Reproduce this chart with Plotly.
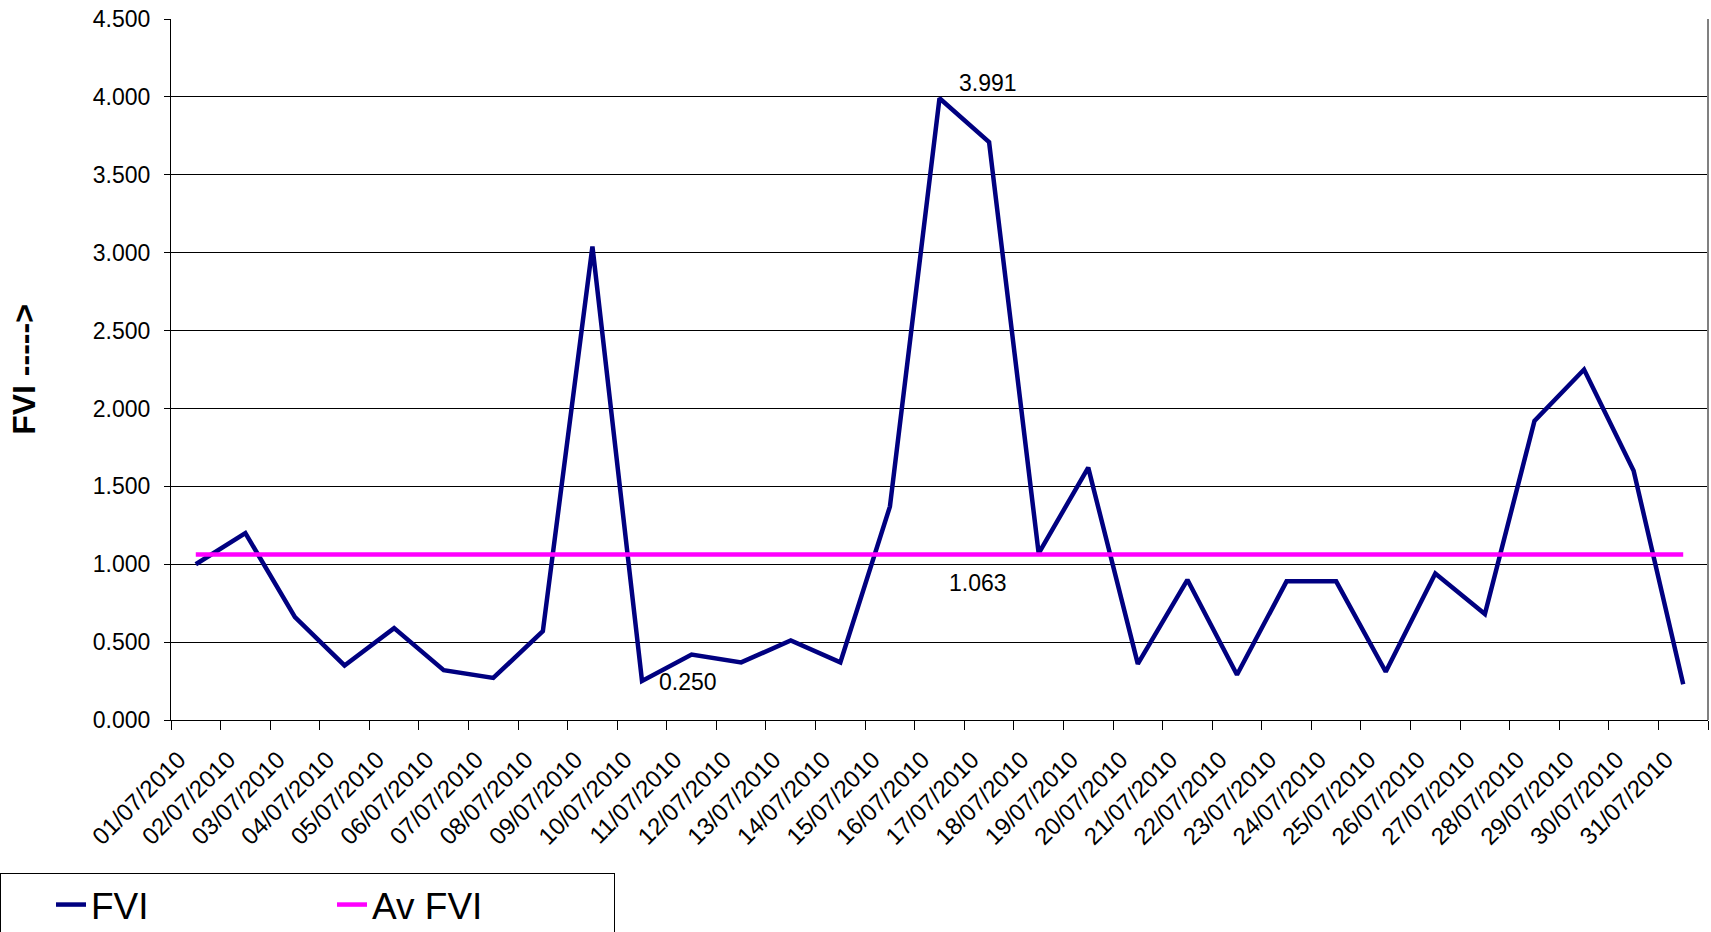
import plotly.graph_objects as go

dates = [f"{d:02d}/07/2010" for d in range(1, 32)]
fvi = [1.00, 1.20, 0.66, 0.35, 0.59, 0.32, 0.27, 0.57, 3.04, 0.250, 0.42, 0.37, 0.51, 0.37,
       1.37, 3.991, 3.71, 1.07, 1.62, 0.36, 0.90, 0.29, 0.89, 0.89, 0.31, 0.94, 0.68, 1.92,
       2.25, 1.60, 0.23]
avg_value = 1.063
av_fvi = [avg_value] * len(dates)

FONT = "Arial, Liberation Sans, sans-serif"

fig = go.Figure()
fig.add_trace(go.Scatter(x=dates, y=fvi, mode="lines", name="FVI",
                         line=dict(color="#000080", width=4.5)))
fig.add_trace(go.Scatter(x=dates, y=av_fvi, mode="lines", name="Av FVI",
                         line=dict(color="#FF00FF", width=4.5)))

# data labels
fig.add_annotation(x=dates[15], y=fvi[15], text="3.991", showarrow=False,
                   xshift=48, yshift=15, font=dict(size=23, color="black", family=FONT))
fig.add_annotation(x=dates[9], y=fvi[9], text="0.250", showarrow=False,
                   xshift=46, yshift=-1, font=dict(size=23, color="black", family=FONT))
fig.add_annotation(x=dates[16], y=av_fvi[16], text="1.063", showarrow=False,
                   xshift=-11, yshift=-29, font=dict(size=23, color="black", family=FONT))

fig.update_layout(
    width=1711, height=932,
    paper_bgcolor="white", plot_bgcolor="white",
    margin=dict(l=171, r=3, t=19, b=212, autoexpand=False),
    font=dict(family=FONT, color="black", size=23),
    showlegend=True,
    legend=dict(orientation="h", xref="container", yref="container",
                x=0, xanchor="left", y=1 - 873 / 932, yanchor="top",
                font=dict(size=37, family=FONT, color="black"),
                title=dict(text="&nbsp;&nbsp;&nbsp;&nbsp;", side="left",
                           font=dict(size=36, family=FONT)),
                bordercolor="black", borderwidth=1, bgcolor="white",
                entrywidth=236, itemwidth=30),
)
fig.update_xaxes(type="category", range=[-0.5, 30.5], tickangle=-45, automargin=False,
                 tickson="boundaries", ticks="outside", ticklen=9, tickcolor="black",
                 ticklabelstandoff=15, ticklabelshift=-17,
                 showline=True, linecolor="black", linewidth=1, mirror=False,
                 showgrid=False, tickfont=dict(size=24, family=FONT))
fig.update_yaxes(range=[0, 4.5], dtick=0.5, tickformat=".3f", automargin=False,
                 ticks="outside", ticklen=6, tickcolor="black", ticklabelstandoff=9,
                 showline=True, linecolor="black", linewidth=1,
                 showgrid=True, gridcolor="black", gridwidth=1, zeroline=False,
                 tickfont=dict(size=23, family=FONT),
                 title=dict(text="<b>FVI -----></b>", font=dict(size=32, family=FONT), standoff=47))
# plot-area frame on the right
fig.add_shape(type="line", xref="paper", yref="paper", x0=1, x1=1, y0=0, y1=1,
              line=dict(color="#808080", width=2))

fig.write_html("out.html", config={"displayModeBar": False},
               post_script="document.body.style.margin='0px';document.body.style.overflow='hidden';")
